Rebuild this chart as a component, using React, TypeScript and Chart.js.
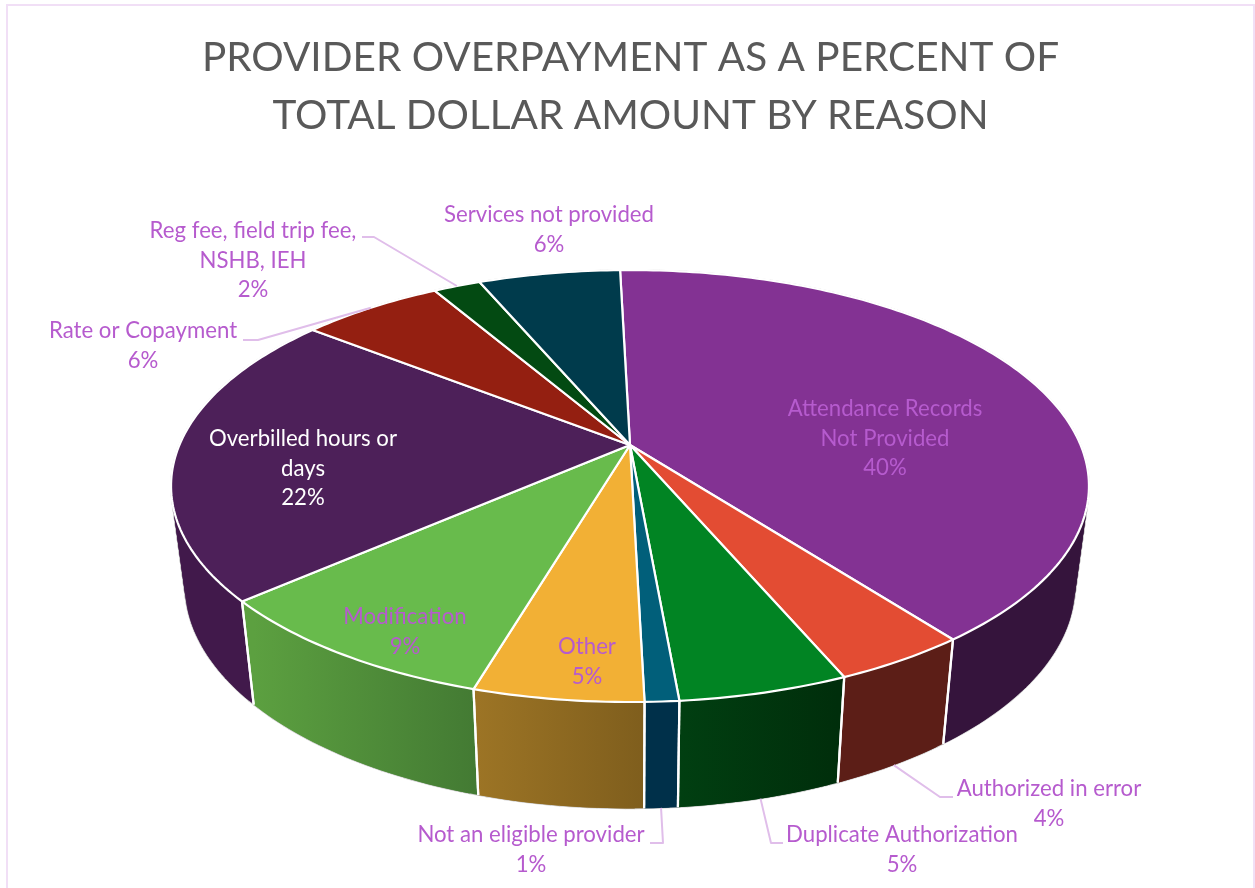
import React, { useEffect, useRef } from "react";
import { Chart, registerables } from "chart.js";

Chart.register(...registerables);

// Chart content
const titleLines = ["PROVIDER OVERPAYMENT AS A PERCENT OF", "TOTAL DOLLAR AMOUNT BY REASON"];
const categoryLines = [
  ["Attendance Records", "Not Provided"],
  ["Authorized in error"],
  ["Duplicate Authorization"],
  ["Not an eligible provider"],
  ["Other"],
  ["Modification"],
  ["Overbilled hours or", "days"],
  ["Rate or Copayment"],
  ["Reg fee, field trip fee,", "NSHB, IEH"],
  ["Services not provided"],
];
const percentValues = [40, 4, 5, 1, 5, 9, 22, 6, 2, 6];

// Slice colours: top face, then the side wall's left and right gradient stops
const topColors = ["#833293", "#E34C33", "#018423", "#015F7A", "#F2B035", "#68BB4C", "#4D2059", "#941F11", "#034A12", "#003B4C"];
const sideLeft = ["#35143C", "#5C1E17", "#013F11", "#00304A", "#9C7425", "#5CA040", "#41194B", "#5C1E17", "#022A0A", "#00242E"];
const sideRight = ["#35143C", "#5C1E17", "#002E0B", "#00304A", "#7F5E1D", "#437A33", "#41194B", "#5C1E17", "#022A0A", "#00242E"];

// Label placement: centre x, centre y of the first line, text colour
const labelX = [885, 1049, 902, 531, 587, 405, 303, 143, 253, 549];
const labelY = [409, 789, 835, 835, 647, 617, 439, 331, 231, 215];
const labelColor = "#B65BCE";
const onDarkLabelColor = "#FFFFFF";
const whiteLabelIndex = 6;
const labelLineHeight = 29.5;

// Leader lines: the text-side start, an elbow, and which rim the line lands on
const leaders = [
  { slice: 1, from: [953, 797], elbow: [940, 797], rim: "bottom" },
  { slice: 2, from: [783, 843], elbow: [771, 843], rim: "bottom" },
  { slice: 3, from: [650, 843], elbow: [663, 843], rim: "bottom" },
  { slice: 7, from: [243, 340], elbow: [258, 340], rim: "top" },
  { slice: 8, from: [362, 237], elbow: [374, 237], rim: "top" },
];

// Perspective disc: unit circle to screen, with the apex off the ellipse centre
type Face = { cx: number; cy: number; c: number; b: number; k: number };
const topFace: Face = { cx: 630, cy: 445, c: 450.6, b: 208.2, k: -0.19 };
const bottomFace: Face = { cx: 630, cy: 543, c: 437, b: 215, k: -0.19 };

function project(f: Face, a: number, r = 1): [number, number] {
  const u = Math.cos(a) * r;
  const v = Math.sin(a) * r;
  const w = 1 + f.k * v;
  return [f.cx + (f.c * u) / w, f.cy + (f.b * v) / w];
}

function arcSamples(start: number, end: number): number[] {
  const n = Math.max(2, Math.ceil((end - start) / (Math.PI / 180)));
  const out: number[] = [];
  for (let i = 0; i <= n; i++) out.push(start + ((end - start) * i) / n);
  return out;
}

const fontFamily = "Lato, Carlito, 'Open Sans', sans-serif";

const tiltedPie = {
  id: "tiltedPie",
  beforeDraw(chart: any) {
    const { ctx } = chart;
    ctx.save();
    ctx.strokeStyle = "#F1DFF6";
    ctx.lineWidth = 2;
    ctx.strokeRect(7, 5, 1247, 920);
    ctx.restore();
  },
  beforeDatasetDraw(chart: any, args: any) {
    const { ctx } = chart;
    const arcs = chart.getDatasetMeta(args.index).data;
    ctx.save();
    ctx.lineJoin = "round";

    // Faint outline that shows around the whole solid
    const wall = (a0: number, a1: number) => {
      const p0 = project(topFace, a0);
      const p1 = project(topFace, a1);
      const q1 = project(bottomFace, a1);
      const q0 = project(bottomFace, a0);
      ctx.beginPath();
      ctx.moveTo(p0[0], p0[1]);
      ctx.lineTo(p1[0], p1[1]);
      ctx.lineTo(q1[0], q1[1]);
      ctx.lineTo(q0[0], q0[1]);
      ctx.closePath();
    };
    ctx.strokeStyle = "#CFCFCF";
    ctx.lineWidth = 1.6;
    arcs.forEach((arc: any) => {
      const s = arcSamples(arc.startAngle, arc.endAngle);
      for (let i = 0; i + 1 < s.length; i++) {
        wall(s[i], s[i + 1]);
        ctx.stroke();
      }
    });

    // Side walls, with each step overlapping the next to avoid seams
    arcs.forEach((arc: any, idx: number) => {
      const s = arcSamples(arc.startAngle, arc.endAngle);
      const xs = s.map((a) => project(bottomFace, a)[0]);
      const g = ctx.createLinearGradient(Math.max(...xs), 0, Math.min(...xs), 0);
      g.addColorStop(0, sideRight[idx]);
      g.addColorStop(1, sideLeft[idx]);
      ctx.fillStyle = g;
      for (let i = 0; i + 1 < s.length; i++) {
        wall(s[i], s[Math.min(i + 2, s.length - 1)]);
        ctx.fill();
      }
    });

    // White seams on the visible wall
    ctx.strokeStyle = "#FFFFFF";
    ctx.lineWidth = 2.2;
    arcs.forEach((arc: any) => {
      [arc.startAngle, arc.endAngle].forEach((a: number) => {
        if (Math.sin(a) <= 0) return;
        const p = project(topFace, a);
        const q = project(bottomFace, a);
        ctx.beginPath();
        ctx.moveTo(p[0], p[1]);
        ctx.lineTo(q[0], q[1]);
        ctx.stroke();
      });
    });

    // Top faces
    arcs.forEach((arc: any, idx: number) => {
      ctx.beginPath();
      ctx.moveTo(topFace.cx, topFace.cy);
      arcSamples(arc.startAngle, arc.endAngle).forEach((a) => {
        const p = project(topFace, a);
        ctx.lineTo(p[0], p[1]);
      });
      ctx.closePath();
      ctx.fillStyle = topColors[idx];
      ctx.fill();
      ctx.strokeStyle = "#FFFFFF";
      ctx.lineWidth = 2.2;
      ctx.stroke();
    });
    ctx.restore();
    return false;
  },
  afterDatasetsDraw(chart: any) {
    const { ctx } = chart;
    const arcs = chart.getDatasetMeta(0).data;
    ctx.save();

    // Leader lines
    ctx.strokeStyle = "#E0BEEA";
    ctx.lineWidth = 2;
    ctx.lineJoin = "round";
    leaders.forEach((l) => {
      const arc = arcs[l.slice];
      const mid = (arc.startAngle + arc.endAngle) / 2;
      const end = project(l.rim === "top" ? topFace : bottomFace, mid);
      ctx.beginPath();
      ctx.moveTo(l.from[0], l.from[1]);
      ctx.lineTo(l.elbow[0], l.elbow[1]);
      ctx.lineTo(end[0], end[1]);
      ctx.stroke();
    });

    // Category and percent labels
    ctx.font = `22.2px ${fontFamily}`;
    ctx.textAlign = "center";
    ctx.textBaseline = "middle";
    percentValues.forEach((value, idx) => {
      ctx.fillStyle = idx === whiteLabelIndex ? onDarkLabelColor : labelColor;
      const lines = [...categoryLines[idx], `${value}%`];
      lines.forEach((line, li) => {
        ctx.fillText(line, labelX[idx], labelY[idx] + li * labelLineHeight);
      });
    });
    ctx.restore();
  },
};

export default function App() {
  const ref = useRef<HTMLCanvasElement>(null);
  useEffect(() => {
    const chart = new Chart(ref.current as HTMLCanvasElement, {
      type: "pie",
      data: {
        labels: categoryLines.map((l) => l.join(" ")),
        datasets: [{ data: percentValues, backgroundColor: topColors }],
      },
      options: {
        responsive: false,
        animation: false,
        rotation: -1.5,
        layout: { padding: { left: 6 } },
        plugins: {
          legend: { display: false },
          tooltip: { enabled: false },
          title: {
            display: true,
            text: titleLines,
            color: "#595959",
            font: { family: fontFamily, size: 40.5, weight: "normal", lineHeight: 1.43 },
            padding: { top: 29, bottom: 10 },
          },
        },
      },
      plugins: [tiltedPie],
    } as any);
    return () => chart.destroy();
  }, []);
  return (
    <div style={{ position: "absolute", left: 0, top: 0, width: 1255, height: 888, overflow: "hidden", background: "#fff" }}>
      <canvas ref={ref} width={1255} height={888} style={{ display: "block" }} />
    </div>
  );
}
